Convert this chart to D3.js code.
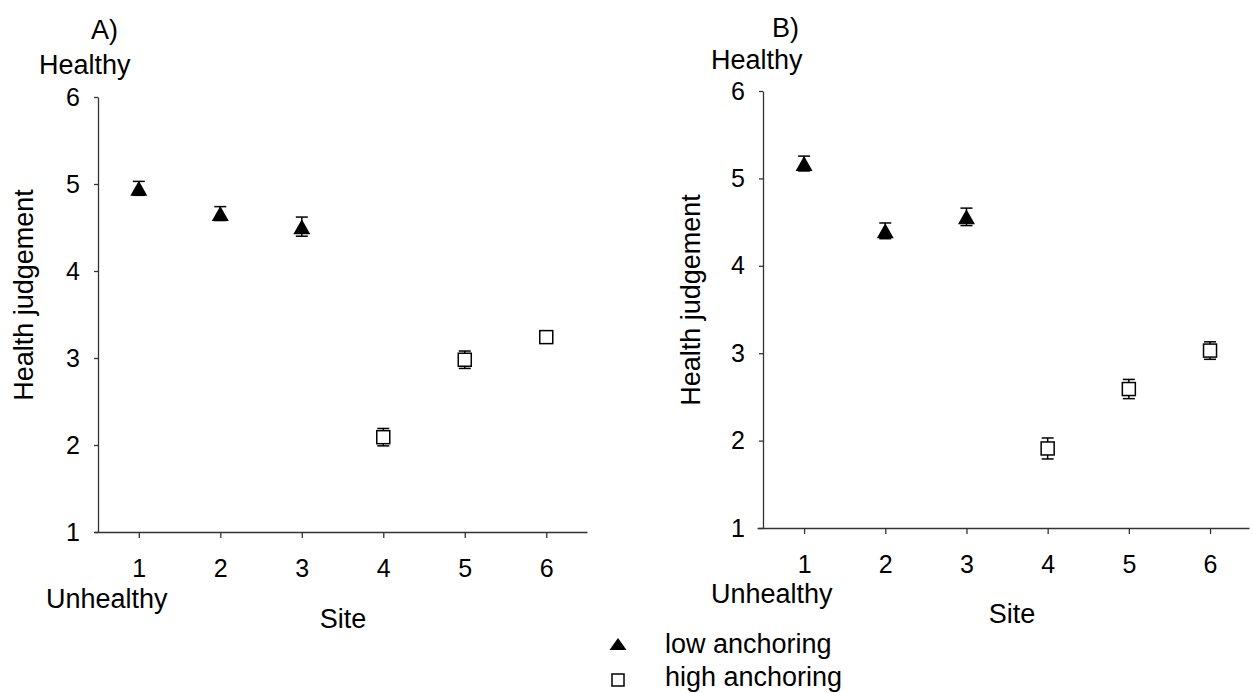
<!DOCTYPE html>
<html>
<head>
<meta charset="utf-8">
<script src="https://cdn.jsdelivr.net/npm/d3@7"></script>
<style>
    body { margin: 0; background: white; }
    svg text { font-family: "Liberation Sans", Arial, sans-serif; fill: black; }
</style>
</head>
<body>
<div id="main"></div>
<script>
const ctx = {
    w: 1253,
    h: 693,
    TICK_FONT: 25,
    LABEL_FONT: 27,
};

// data
const SITES = [1, 2, 3, 4, 5, 6];
const GROUPS = ["low", "low", "low", "high", "high", "high"];
const A_MEANS = [4.95, 4.66, 4.51, 2.09, 2.98, 3.24];
const A_ERRS = [0.08, 0.08, 0.11, 0.10, 0.10, 0.07];
const B_MEANS = [5.17, 4.40, 4.56, 1.91, 2.59, 3.03];
const B_ERRS = [0.085, 0.09, 0.10, 0.12, 0.11, 0.10];
const Y_TICKS = [1, 2, 3, 4, 5, 6];
const LEGEND_LABELS = ["low anchoring", "high anchoring"];

// panel layouts (pixel frames only)
const PANELS = [
    {id: "A", title: "A)", means: A_MEANS, errs: A_ERRS,
     yAxisX: 98, xAxisY: 532, top: 97, xLeft: 94, xRight: 587, xDomain: [0.45, 6.5],
     titleX: 91, titleY: 39, healthyX: 39, healthyY: 74,
     unhealthyX: 46, unhealthyY: 608, siteX: 343, siteY: 628, yLabelX: 33, yLabelY: 295},
    {id: "B", title: "B)", means: B_MEANS, errs: B_ERRS,
     yAxisX: 763, xAxisY: 528, top: 91, xLeft: 757, xRight: 1249, xDomain: [0.42, 6.48],
     titleX: 772, titleY: 37, healthyX: 711, healthyY: 69,
     unhealthyX: 711, unhealthyY: 603, siteX: 1012, siteY: 623, yLabelX: 700, yLabelY: 300},
];

function trianglePath(w, h) {
    return `M0,${-h/2}L${w/2},${h/2}L${-w/2},${h/2}Z`;
}

function drawMarker(g, group, x, y, big) {
    if (group == "low") {
        g.append("path")
         .attr("d", big ? trianglePath(17, 15) : trianglePath(17, 12))
         .attr("transform", `translate(${x},${y})`)
         .style("fill", "black");
    }
    else {
        let s = big ? 13 : 12;
        g.append("rect")
         .attr("x", x - s/2)
         .attr("y", y - s/2)
         .attr("width", s)
         .attr("height", s)
         .style("fill", "white")
         .style("stroke", "black")
         .style("stroke-width", 1.5);
    }
}

function drawPanel(svgEl, p) {
    let g = svgEl.append("g").attr("id", "panel" + p.id);

    let x = d3.scaleLinear().domain(p.xDomain).range([p.xLeft, p.xRight]);
    let y = d3.scaleLinear().domain([1, 6]).range([p.xAxisY, p.top]);

    let xAxis = d3.axisBottom(x)
                  .tickValues(SITES)
                  .tickSizeInner(6)
                  .tickSizeOuter(0)
                  .tickPadding(21)
                  .tickFormat(d3.format("d"));
    let yAxis = d3.axisLeft(y)
                  .tickValues(Y_TICKS)
                  .tickSizeInner(4)
                  .tickSizeOuter(0)
                  .tickPadding(14)
                  .tickFormat(d3.format("d"));

    let gx = g.append("g")
              .attr("transform", `translate(0,${p.xAxisY})`)
              .call(xAxis);
    let gy = g.append("g")
              .attr("transform", `translate(${p.yAxisX},0)`)
              .call(yAxis);
    [gx, gy].forEach(a => {
        a.selectAll("path, line").style("stroke", "#333").style("stroke-width", 1.3);
        a.selectAll("text")
         .style("font-size", ctx.TICK_FONT + "px")
         .style("font-family", "'Liberation Sans', Arial, sans-serif")
         .style("fill", "black");
    });

    // error bars first, markers on top
    let errG = g.append("g").attr("class", "errors");
    SITES.forEach((s, i) => {
        let cx = x(s);
        let y0 = y(p.means[i] - p.errs[i]);
        let y1 = y(p.means[i] + p.errs[i]);
        errG.append("line").attr("x1", cx).attr("x2", cx).attr("y1", y0).attr("y2", y1);
        errG.append("line").attr("x1", cx - 6).attr("x2", cx + 6).attr("y1", y0).attr("y2", y0);
        errG.append("line").attr("x1", cx - 6).attr("x2", cx + 6).attr("y1", y1).attr("y2", y1);
    });
    errG.selectAll("line").style("stroke", "black").style("stroke-width", 1.5);

    let markG = g.append("g").attr("class", "markers");
    SITES.forEach((s, i) => {
        drawMarker(markG, GROUPS[i], x(s), y(p.means[i]), true);
    });

    // texts
    let lab = (txt, tx, ty) => g.append("text")
                                 .attr("x", tx)
                                 .attr("y", ty)
                                 .style("font-size", ctx.LABEL_FONT + "px")
                                 .text(txt);
    lab(p.title, p.titleX, p.titleY);
    lab("Healthy", p.healthyX, p.healthyY);
    lab("Unhealthy", p.unhealthyX, p.unhealthyY);
    lab("Site", p.siteX, p.siteY).attr("text-anchor", "middle");
    g.append("text")
     .attr("transform", `translate(${p.yLabelX},${p.yLabelY}) rotate(-90)`)
     .attr("text-anchor", "middle")
     .style("font-size", ctx.LABEL_FONT + "px")
     .text("Health judgement");
}

function drawLegend(svgEl) {
    let g = svgEl.append("g").attr("id", "legend");
    let rows = [{group: "low", y: 644, base: 653}, {group: "high", y: 680, base: 686}];
    rows.forEach((r, i) => {
        drawMarker(g, r.group, 618, r.y, false);
        g.append("text")
         .attr("x", 665)
         .attr("y", r.base)
         .style("font-size", ctx.LABEL_FONT + "px")
         .text(LEGEND_LABELS[i]);
    });
}

function createViz() {
    let svgEl = d3.select("#main").append("svg")
                  .attr("width", ctx.w)
                  .attr("height", ctx.h);
    svgEl.append("rect")
         .attr("width", ctx.w)
         .attr("height", ctx.h)
         .attr("fill", "white");
    PANELS.forEach(p => drawPanel(svgEl, p));
    drawLegend(svgEl);
}

createViz();
</script>
</body>
</html>
